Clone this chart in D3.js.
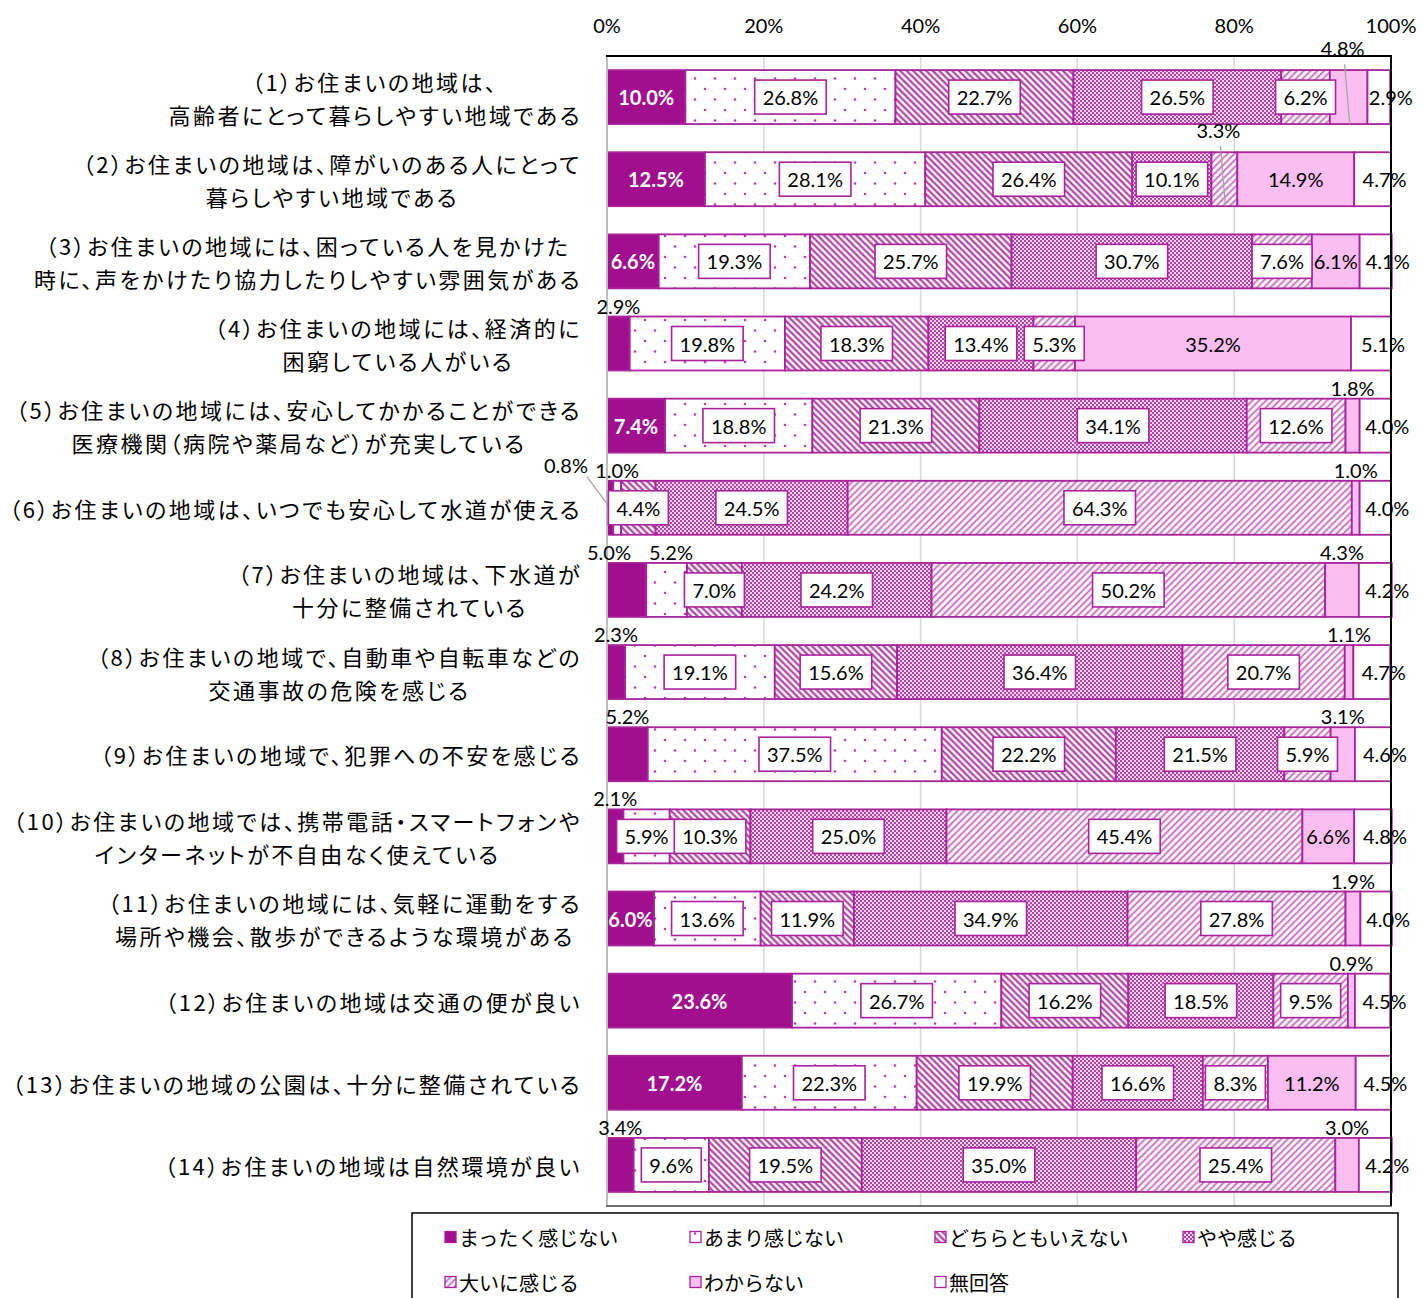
<!DOCTYPE html>
<html><head><meta charset="utf-8">
<script src="https://cdn.jsdelivr.net/npm/d3@7"></script>
<style>body{margin:0;background:#fff} svg{display:block} .cat{font-feature-settings:"palt" 1;}</style>
</head><body><svg id="c" width="1423" height="1298"></svg>
<script>
const categories = [
  "（1）お住まいの地域は、\n高齢者にとって暮らしやすい地域である",
  "（2）お住まいの地域は、障がいのある人にとって\n暮らしやすい地域である",
  "（3）お住まいの地域には、困っている人を見かけた\n時に、声をかけたり協力したりしやすい雰囲気がある",
  "（4）お住まいの地域には、経済的に\n困窮している人がいる",
  "（5）お住まいの地域には、安心してかかることができる\n医療機関（病院や薬局など）が充実している",
  "（6）お住まいの地域は、いつでも安心して水道が使える",
  "（7）お住まいの地域は、下水道が\n十分に整備されている",
  "（8）お住まいの地域で、自動車や自転車などの\n交通事故の危険を感じる",
  "（9）お住まいの地域で、犯罪への不安を感じる",
  "（10）お住まいの地域では、携帯電話・スマートフォンや\nインターネットが不自由なく使えている",
  "（11）お住まいの地域には、気軽に運動をする\n場所や機会、散歩ができるような環境がある",
  "（12）お住まいの地域は交通の便が良い",
  "（13）お住まいの地域の公園は、十分に整備されている",
  "（14）お住まいの地域は自然環境が良い"
];
const seriesNames = ["まったく感じない","あまり感じない","どちらともいえない","やや感じる","大いに感じる","わからない","無回答"];
const mattaku   = [10.0,12.5,6.6,2.9,7.4,0.8,5.0,2.3,5.2,2.1,6.0,23.6,17.2,3.4];
const amari     = [26.8,28.1,19.3,19.8,18.8,1.0,5.2,19.1,37.5,5.9,13.6,26.7,22.3,9.6];
const dochira   = [22.7,26.4,25.7,18.3,21.3,4.4,7.0,15.6,22.2,10.3,11.9,16.2,19.9,19.5];
const yaya      = [26.5,10.1,30.7,13.4,34.1,24.5,24.2,36.4,21.5,25.0,34.9,18.5,16.6,35.0];
const ooini     = [6.2,3.3,7.6,5.3,12.6,64.3,50.2,20.7,5.9,45.4,27.8,9.5,8.3,25.4];
const wakaranai = [4.8,14.9,6.1,35.2,1.8,1.0,4.3,1.1,3.1,6.6,1.9,0.9,11.2,3.0];
const mukaitou  = [2.9,4.7,4.1,5.1,4.0,4.0,4.2,4.7,4.6,4.8,4.0,4.5,4.5,4.2];
const tickValues = [0,20,40,60,80,100];
const tickLabels = ["0%","20%","40%","60%","80%","100%"];
// labels drawn outside the bar: [row, series, mode]
const outsideLabels = [
  [0,5,"leader"],[1,4,"leader"],[3,0,"above"],[4,5,"above"],
  [5,0,"left"],[5,1,"above"],[5,5,"above"],
  [6,0,"above"],[6,1,"above"],[6,5,"above"],
  [7,0,"above"],[7,5,"above"],[8,0,"above"],[8,5,"above"],
  [9,0,"above"],[10,5,"above"],[11,5,"above"],[13,0,"above"],[13,5,"above"]
];

const seriesArrays = [mattaku,amari,dochira,yaya,ooini,wakaranai,mukaitou];
const JP = "'Noto Sans CJK JP', sans-serif";
const NUM = "Lato, 'Liberation Sans', sans-serif";
const PURPLE = "#A10E8E";
const STROKE = "#A8239C";

const svg = d3.select("#c");
const defs = svg.append("defs");
const pd = defs.append("pattern").attr("id","pDots").attr("patternUnits","userSpaceOnUse").attr("width",20).attr("height",21);
pd.append("rect").attr("width",20).attr("height",21).attr("fill","#fff");
pd.append("circle").attr("cx",5).attr("cy",5).attr("r",1.3).attr("fill","#C23AB2");
pd.append("circle").attr("cx",15).attr("cy",15.5).attr("r",1.3).attr("fill","#C23AB2");
function stripes(id, angle, size, sw, color){
  const p = defs.append("pattern").attr("id",id).attr("patternUnits","userSpaceOnUse")
    .attr("width",size).attr("height",size).attr("patternTransform",`rotate(${angle})`);
  p.append("rect").attr("width",size).attr("height",size).attr("fill","#fff");
  p.append("line").attr("x1",size/2).attr("x2",size/2).attr("y1",0).attr("y2",size)
    .attr("stroke",color).attr("stroke-width",sw);
}
stripes("pBack",-45,4.6,2.0,"#AE2AA0");
stripes("pFwd",45,4.8,1.7,"#C65ABD");
const pc = defs.append("pattern").attr("id","pCheck").attr("patternUnits","userSpaceOnUse").attr("width",4).attr("height",4);
pc.append("rect").attr("width",4).attr("height",4).attr("fill","#F5D3F1");
pc.append("rect").attr("width",2).attr("height",2).attr("fill","#B443A8");
pc.append("rect").attr("x",2).attr("y",2).attr("width",2).attr("height",2).attr("fill","#B443A8");
const fills = [PURPLE,"url(#pDots)","url(#pBack)","url(#pCheck)","url(#pFwd)","#FABEF0","#fff"];

const x = d3.scaleLinear().domain([0,100]).range([607,1391]);
const y = d3.scaleBand().domain(d3.range(categories.length)).range([56,1206]).paddingInner(0.343).paddingOuter(0.1715);
const bh = y.bandwidth();

svg.append("g").selectAll("line").data(tickValues.filter(v=>v>0&&v<100)).join("line")
  .attr("x1",d=>x(d)).attr("x2",d=>x(d)).attr("y1",56).attr("y2",1206)
  .attr("stroke","#D9D9D9").attr("stroke-width",1.5);

svg.append("g").selectAll("text").data(tickValues).join("text")
  .attr("x",d=>x(d)).attr("y",25).attr("text-anchor","middle").attr("dominant-baseline","central")
  .attr("font-family",NUM).attr("font-size",20).attr("fill","#000")
  .text((d,i)=>tickLabels[i]);

const rows = categories.map((c,i)=>{const o={i}; seriesNames.forEach((s,j)=>o[s]=seriesArrays[j][i]); return o;});
const stacked = d3.stack().keys(seriesNames)(rows);

const barG = svg.append("g");
stacked.forEach((layer,j)=>{
  barG.append("g").selectAll("rect").data(layer).join("rect")
    .attr("x",d=>x(d[0])).attr("width",d=>x(d[1])-x(d[0]))
    .attr("y",(d,i)=>y(i)).attr("height",bh)
    .attr("fill",fills[j]).attr("stroke",STROKE).attr("stroke-width",1.8);
});

svg.append("line").attr("x1",607).attr("x2",607).attr("y1",56).attr("y2",1206).attr("stroke","#BFBFBF").attr("stroke-width",2);
svg.append("line").attr("x1",606).attr("x2",1392).attr("y1",56).attr("y2",56).attr("stroke","#000").attr("stroke-width",2);
svg.append("line").attr("x1",1391).attr("x2",1391).attr("y1",56).attr("y2",1206).attr("stroke","#000").attr("stroke-width",2);
svg.append("line").attr("x1",606).attr("x2",1392).attr("y1",1206).attr("y2",1206).attr("stroke","#404040").attr("stroke-width",1.5);

const labG = svg.append("g");
const modeOf = (i,j)=>{const f=outsideLabels.find(o=>o[0]===i&&o[1]===j); return f?f[2]:"in";};
categories.forEach((c,i)=>{
  const top = y(i), cy = top + bh/2;
  const aboveList = [];
  stacked.forEach((layer,j)=>{
    const d = layer[i];
    const v = seriesArrays[j][i];
    const txt = v.toFixed(1)+"%";
    const mid = (x(d[0])+x(d[1]))/2;
    const mode = modeOf(i,j);
    if(mode==="in"){
      if(j===0){
        labG.append("text").attr("x",mid).attr("y",cy).attr("text-anchor","middle").attr("dominant-baseline","central")
          .attr("font-family",NUM).attr("font-weight","bold").attr("font-size",20).attr("fill","#fff").text(txt);
      } else if(j<=4){
        const g = labG.append("g");
        const t = g.append("text").attr("x",mid).attr("y",cy).attr("text-anchor","middle").attr("dominant-baseline","central")
          .attr("font-family",NUM).attr("font-size",20).attr("fill","#000").text(txt);
        const w = t.node().getComputedTextLength();
        g.insert("rect","text").attr("x",mid-w/2-8).attr("y",cy-17).attr("width",w+16).attr("height",34)
          .attr("fill","#fff").attr("stroke",STROKE).attr("stroke-width",1.6);
      } else {
        const px = j===6 ? mid+12 : mid;
        labG.append("text").attr("x",px).attr("y",cy).attr("text-anchor","middle").attr("dominant-baseline","central")
          .attr("font-family",NUM).attr("font-size",20).attr("fill","#000").text(txt);
      }
    } else if(mode==="above"){
      aboveList.push({x:mid,txt});
    } else if(mode==="leader"){
      labG.append("line").attr("x1",mid-4).attr("y1",top-6).attr("x2",mid+1).attr("y2",top+bh)
        .attr("stroke","#A6A6A6").attr("stroke-width",1.3);
      labG.append("text").attr("x",mid-6).attr("y",top-22).attr("text-anchor","middle").attr("dominant-baseline","central")
        .attr("font-family",NUM).attr("font-size",20).attr("fill","#000").text(txt);
    } else if(mode==="left"){
      labG.append("line").attr("x1",x(0)-20).attr("y1",top-4).attr("x2",mid).attr("y2",cy)
        .attr("stroke","#A6A6A6").attr("stroke-width",1.3);
      labG.append("text").attr("x",x(0)-41).attr("y",top-16).attr("text-anchor","middle").attr("dominant-baseline","central")
        .attr("font-family",NUM).attr("font-size",20).attr("fill","#000").text(txt);
    }
  });
  aboveList.sort((a,b)=>a.x-b.x);
  for(let k=aboveList.length-2;k>=0;k--){
    const gap = aboveList[k+1].x - aboveList[k].x;
    if(gap<62){ aboveList[k].x -= (62-gap)*0.8; aboveList[k+1].x += (62-gap)*0.2; }
  }
  aboveList.forEach(a=>{
    labG.append("text").attr("x",a.x).attr("y",top-11).attr("text-anchor","middle").attr("dominant-baseline","central")
      .attr("font-family",NUM).attr("font-size",20).attr("fill","#000").text(a.txt);
  });
});

const catG = svg.append("g");
categories.forEach((c,i)=>{
  const lines = c.split("\n");
  const cy = y(i)+bh/2;
  const g = catG.append("g");
  const ts = lines.map((ln,k)=>g.append("text").attr("class","cat").attr("y", cy + (k-(lines.length-1)/2)*33)
    .attr("dominant-baseline","central").attr("text-anchor","middle")
    .attr("font-family",JP).attr("font-size",22).attr("letter-spacing",2.5).attr("fill","#000").text(ln));
  const maxW = d3.max(ts, t=>t.node().getComputedTextLength());
  ts.forEach(t=>t.attr("x",582-maxW/2));
});

svg.append("rect").attr("x",412).attr("y",1213).attr("width",986).attr("height",110)
  .attr("fill","#fff").attr("stroke","#000").attr("stroke-width",1.5);
const legCols = [445,690,935,1183], legRows = [1237,1282];
seriesNames.forEach((s,j)=>{
  const lx = legCols[j%4], ly = legRows[Math.floor(j/4)];
  svg.append("rect").attr("x",lx).attr("y",ly-5.5).attr("width",11).attr("height",11)
    .attr("fill",fills[j]).attr("stroke",STROKE).attr("stroke-width",1.3);
  svg.append("text").attr("x",lx+14).attr("y",ly).attr("dominant-baseline","central")
    .attr("font-family",JP).attr("font-size",20).attr("fill","#000").text(s);
});
</script></body></html>
